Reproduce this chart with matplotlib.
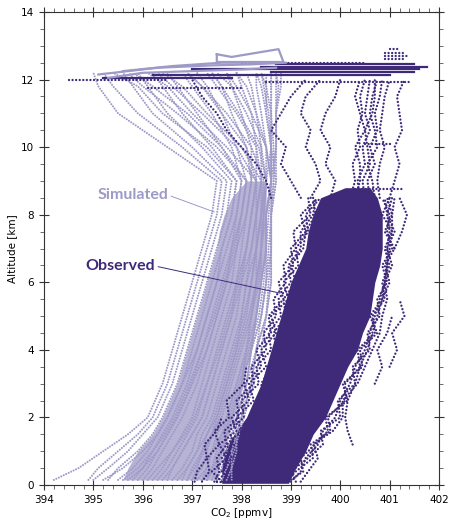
import matplotlib
matplotlib.use('Agg')
import matplotlib.pyplot as plt
import numpy as np
from matplotlib.ticker import MultipleLocator

sim_color = '#9e9ac8'
obs_color = '#3f2a7a'
nan = np.nan

# model profiles: CO2 [ppmv] at fixed altitudes [km]
sim_alt = [0.15, 0.5, 1.0, 1.5, 2.0, 3.0, 4.0, 5.0, 6.0, 7.0, 8.0, 9.0, 10.0, 11.0, 11.8, 12.2]
sim_profiles = [
    [394.2, 394.7, 395.2, 395.7, 396.1, 396.4, 396.6, 396.8, 397.0, 397.2, 397.4, 397.5, 396.5, 395.5, 395.1, 395.0],
    [394.9, 395.1, 395.5, 395.9, 396.2, 396.5, 396.7, 396.9, 397.1, 397.3, 397.5, 397.6, 396.8, 395.9, 395.4, 395.2],
    [395.0, 395.3, 395.7, 396.0, 396.3, 396.6, 396.8, 397.0, 397.2, 397.4, 397.6, 397.7, 397.0, 396.2, 395.8, 395.6],
    [395.3, 395.5, 395.9, 396.2, 396.4, 396.7, 396.9, 397.1, 397.3, 397.5, 397.7, 397.8, 397.2, 396.5, 396.1, 395.9],
    [395.5, 395.8, 396.1, 396.3, 396.5, 396.8, 397.0, 397.2, 397.4, 397.6, 397.8, 397.9, 397.4, 396.8, 396.4, 396.2],
    [395.7, 396.0, 396.2, 396.4, 396.6, 396.9, 397.1, 397.3, 397.5, 397.7, 397.9, 398.0, 397.6, 397.1, 396.7, 396.5],
    [395.9, 396.1, 396.3, 396.5, 396.7, 397.0, 397.2, 397.4, 397.6, 397.8, 397.9, 398.0, 397.8, 397.4, 397.0, 396.8],
    [396.0, 396.2, 396.4, 396.6, 396.8, 397.1, 397.3, 397.5, 397.7, 397.8, 398.0, 398.1, 397.9, 397.6, 397.3, 397.1],
    [396.2, 396.4, 396.6, 396.8, 397.0, 397.2, 397.4, 397.6, 397.8, 397.9, 398.1, 398.2, 398.1, 397.8, 397.6, 397.4],
    [396.3, 396.5, 396.7, 396.9, 397.1, 397.3, 397.5, 397.7, 397.9, 398.0, 398.1, 398.2, 398.2, 398.0, 397.8, 397.7],
    [396.5, 396.6, 396.8, 397.0, 397.2, 397.4, 397.6, 397.8, 397.9, 398.1, 398.2, 398.3, 398.3, 398.2, 398.0, 397.9],
    [396.6, 396.8, 397.0, 397.1, 397.3, 397.5, 397.7, 397.9, 398.0, 398.2, 398.3, 398.4, 398.4, 398.3, 398.2, 398.1],
    [396.8, 396.9, 397.1, 397.2, 397.4, 397.6, 397.8, 398.0, 398.1, 398.3, 398.4, 398.5, 398.5, 398.4, 398.3, 398.3],
    [396.9, 397.0, 397.2, 397.3, 397.5, 397.7, 397.9, 398.1, 398.2, 398.3, 398.4, 398.5, 398.6, 398.5, 398.5, 398.4],
    [397.0, 397.2, 397.3, 397.4, 397.6, 397.8, 398.0, 398.2, 398.3, 398.4, 398.5, 398.6, 398.6, 398.6, 398.6, 398.6],
    [397.1, 397.3, 397.4, 397.5, 397.7, 397.9, 398.1, 398.3, 398.4, 398.5, 398.5, 398.6, 398.7, 398.7, 398.7, 398.7],
    [397.2, 397.4, 397.5, 397.6, 397.8, 398.0, 398.2, 398.4, 398.5, 398.6, 398.6, 398.7, 398.7, 398.7, 398.8, 398.8],
    [397.4, 397.5, 397.6, 397.7, 397.9, 398.1, 398.3, 398.5, 398.6, 398.6, 398.6, 398.7, 398.6, 398.5, 398.4, 398.3],
    [397.5, 397.6, 397.7, 397.8, 398.0, 398.2, 398.3, 398.4, 398.5, 398.5, 398.5, 398.6, 398.5, 398.2, 397.9, 397.7],
    [397.6, 397.7, 397.8, 397.9, 398.0, 398.1, 398.2, 398.3, 398.4, 398.4, 398.4, 398.4, 398.3, 397.9, 397.5, 397.3],
    [397.7, 397.8, 397.8, 397.9, 397.9, 398.0, 398.1, 398.2, 398.3, 398.3, 398.3, 398.3, 398.1, 397.6, 397.2, 396.9],
    [397.8, 397.8, 397.9, 397.9, 398.0, 398.2, 398.3, 398.5, 398.6, 398.6, 398.6, 398.6, 398.6, 398.6, 398.6, 398.6],
    [397.0, 397.1, 397.2, 397.4, 397.5, 397.7, 397.9, 398.0, 398.1, 398.2, 398.3, 398.4, 398.0, 397.3, 396.8, 396.4],
    [396.4, 396.6, 396.8, 397.0, 397.2, 397.4, 397.6, 397.8, 398.0, 398.1, 398.2, 398.3, 397.7, 397.0, 396.5, 396.1],
    [395.8, 396.0, 396.3, 396.5, 396.7, 397.0, 397.3, 397.5, 397.7, 397.9, 398.0, 398.1, 397.5, 396.7, 396.0, 395.7],
    [395.2, 395.6, 396.0, 396.3, 396.5, 396.8, 397.1, 397.3, 397.5, 397.6, 397.8, 397.9, 397.3, 396.4, 395.9, 395.4],
    [397.3, 397.4, 397.6, 397.7, 397.8, 398.0, 398.2, 398.3, 398.4, 398.5, 398.5, 398.6, 398.5, 398.3, 398.1, 397.9],
    [397.5, 397.6, 397.7, 397.8, 397.9, 398.1, 398.2, 398.4, 398.5, 398.55, 398.6, 398.65, 398.65, 398.6, 398.5, 398.5],
    [397.2, 397.3, 397.4, 397.6, 397.7, 397.9, 398.1, 398.2, 398.35, 398.4, 398.45, 398.5, 398.4, 398.1, 397.8, 397.5],
    [396.7, 396.9, 397.1, 397.3, 397.45, 397.65, 397.85, 398.05, 398.2, 398.3, 398.4, 398.45, 398.2, 397.7, 397.2, 396.9],
    [396.1, 396.3, 396.6, 396.85, 397.05, 397.3, 397.55, 397.75, 397.95, 398.1, 398.2, 398.3, 397.9, 397.2, 396.6, 396.3],
    [395.6, 395.9, 396.2, 396.45, 396.65, 396.95, 397.2, 397.45, 397.65, 397.85, 398.0, 398.1, 397.6, 396.9, 396.2, 395.8],
    [397.6, 397.7, 397.85, 397.95, 398.05, 398.25, 398.4, 398.5, 398.55, 398.6, 398.6, 398.65, 398.7, 398.7, 398.75, 398.7],
    [397.3, 397.45, 397.55, 397.65, 397.75, 397.95, 398.15, 398.35, 398.45, 398.5, 398.55, 398.6, 398.6, 398.55, 398.45, 398.4],
    [396.9, 397.05, 397.25, 397.4, 397.55, 397.75, 397.95, 398.15, 398.3, 398.4, 398.45, 398.5, 398.35, 397.95, 397.6, 397.4],
]

# dense part of the model profiles
sim_core_alt = [0.15, 0.5, 1.0, 1.5, 2.0, 2.5, 3.0, 3.5, 4.0, 4.5, 5.0, 5.5, 6.0, 6.5, 7.0, 7.5, 8.0, 8.5, 9.0]
sim_core_left = [395.6, 395.7, 395.9, 396.2, 396.4, 396.55, 396.7, 396.8, 396.9, 397.0, 397.1, 397.2, 397.3, 397.4, 397.5, 397.55, 397.65, 397.8, 398.1]
sim_core_right = [397.5, 397.55, 397.65, 397.75, 397.85, 397.95, 398.05, 398.1, 398.2, 398.25, 398.3, 398.35, 398.4, 398.45, 398.5, 398.5, 398.5, 398.5, 398.5]

# model flight legs near the top
sim_top_x = [[395.1, 396.3, 397.4, 398.2, 398.9],
             [395.6, 396.6, 397.6, 398.5],
             [395.3, 396.0, 397.0, 398.0, 398.7],
             [397.5, 397.8, 398.75, 398.85, 397.5, 397.5]]
sim_top_y = [[12.15, 12.35, 12.42, 12.45, 12.5],
             [12.25, 12.4, 12.5, 12.5],
             [12.05, 12.2, 12.25, 12.3, 12.35],
             [12.75, 12.67, 12.9, 12.52, 12.52, 12.75]]

# dense part of the aircraft data: envelope of the bulk of the points
core_alt = [0.05, 0.5, 1.0, 1.5, 2.0, 2.5, 3.0, 3.5, 4.0, 4.5, 5.0, 5.5, 6.0, 6.5, 7.0, 7.5, 8.0, 8.5, 8.8]
core_left = [397.6, 397.6, 397.65, 397.85, 398.1, 398.25, 398.4, 398.5, 398.6, 398.7, 398.8, 398.9, 399.0,
             399.15, 399.3, 399.35, 399.45, 399.6, 400.1]
core_right = [398.95, 399.1, 399.3, 399.45, 399.7, 399.85, 400.0, 400.15, 400.35, 400.45, 400.6, 400.65, 400.7,
              400.8, 400.85, 400.85, 400.85, 400.75, 400.6]

# aircraft profiles below 8.5 km
obs_alt = [0.1, 0.4, 0.8, 1.2, 1.6, 2.0, 2.5, 3.0, 3.5, 4.0, 4.5, 5.0, 5.5, 6.0, 6.5, 7.0, 7.5, 8.0, 8.5]
obs_profiles = [
    [397.45, 397.55, 397.5, 397.7, 397.65, 397.95, 397.9, 398.25, 398.2, 398.5, 398.45, 398.7, 398.65, 398.9, 398.85, 399.1, 399.05, 399.4, 399.35],
    [397.6, 397.4, 397.7, 397.55, 397.9, 397.8, 398.15, 398.05, 398.4, 398.3, 398.6, 398.55, 398.85, 398.75, 399.05, 399.0, 399.3, 399.2, 399.55],
    [397.5, 397.7, 397.6, 397.85, 397.75, 398.05, 398.0, 398.35, 398.3, 398.6, 398.55, 398.8, 398.75, 399.0, 398.95, 399.2, 399.2, 399.45, 399.5],
    [397.8, 397.6, 397.8, 397.7, 398.0, 397.9, 398.25, 398.15, 398.5, 398.4, 398.7, 398.6, 398.95, 398.85, 399.15, 399.1, 399.35, 399.3, 399.6],
    [397.2, 397.35, 397.3, 397.55, 397.45, 397.75, 397.7, 398.05, 398.1, nan, nan, nan, nan, nan, nan, nan, nan, nan, nan],
    [397.05, 397.1, 397.3, 397.25, 397.5, 397.6, nan, nan, nan, nan, nan, nan, nan, nan, nan, nan, nan, nan, nan],
    [399.0, 399.2, 399.3, 399.55, 399.65, 399.9, 400.0, 400.2, 400.3, 400.5, 400.6, 400.7, 400.8, 400.9, 400.95, 400.95, 401.0, 400.95, 400.9],
    [398.9, 399.1, 399.45, 399.4, 399.8, 399.75, 400.1, 400.1, 400.4, 400.35, 400.7, 400.65, 400.9, 400.85, 401.0, 400.9, 401.05, 400.85, 401.0],
    [399.1, 399.0, 399.35, 399.65, 399.6, 400.0, 399.95, 400.3, 400.25, 400.6, 400.55, 400.8, 400.75, 400.95, 400.85, 401.05, 400.95, 401.0, 400.85],
    [398.95, 399.25, 399.2, 399.5, 399.75, 399.7, 400.15, 400.05, 400.45, 400.4, 400.75, 400.6, 400.85, 401.0, 400.9, 401.1, 400.9, 401.05, 400.95],
    [399.2, 399.35, 399.55, 399.45, 399.85, 400.05, 400.05, 400.35, 400.5, 400.65, 400.8, 400.85, 400.95, 400.9, 401.05, 400.95, 401.1, 400.95, 401.05],
    [nan, nan, nan, 400.25, 400.15, 400.1, 400.15, 400.3, 400.4, 400.55, 400.65, 400.75, 400.85, 400.9, 400.95, 401.0, 401.05, 401.05, 401.1],
    [nan, nan, nan, nan, nan, nan, nan, nan, 401.0, 401.15, 401.05, 401.3, 401.2, nan, nan, 401.1, 401.25, 401.35, 401.2],
    [nan, nan, nan, nan, nan, nan, nan, 400.7, 400.85, 400.75, 400.95, 401.05, nan, nan, nan, nan, nan, nan, nan],
    [397.9, 398.1, 398.0, 398.2, 398.3, 398.2, 398.45, 398.4, 398.6, 398.7, 398.65, 398.9, 398.85, 399.1, 399.0, 399.25, 399.3, 399.5, 399.45],
]

# aircraft profiles above 8.5 km
obs_up_alt = [8.5, 9.0, 9.5, 10.0, 10.5, 11.0, 11.5, 12.0]
obs_up_profiles = [
    [400.4, 400.35, 400.5, 400.45, 400.6, 400.5, 400.55, 400.6],
    [400.6, 400.55, 400.7, 400.6, 400.75, 400.7, 400.8, 400.85],
    [400.8, 400.75, 400.8, 400.9, 400.8, 400.85, 400.9, 401.0],
    [400.2, 400.3, 400.25, 400.4, 400.35, 400.45, 400.4, 400.5],
    [400.5, 400.45, 400.6, 400.55, 400.5, 400.65, 400.7, 400.7],
    [400.7, 400.65, 400.55, 400.75, 400.7, 400.6, 400.65, 400.75],
    [400.3, 400.4, 400.4, 400.3, 400.5, 400.4, 400.3, 400.4],
    [399.8, 399.9, 399.7, 399.8, 399.6, 399.7, 399.9, 400.0],
    [399.4, 399.6, 399.5, 399.3, 399.4, 399.2, 399.3, 399.6],
    [399.2, 399.0, 398.8, 398.9, 398.6, 398.8, 399.0, 399.3],
    [401.0, 401.1, 401.2, 401.1, 401.25, 401.2, 401.15, 401.3],
    [398.6, 398.5, 398.3, 398.0, 397.7, 397.5, 397.2, 397.0],
]

# level flight legs: altitude [km], start and end CO2 [ppmv]
leg_alt = [0.1, 0.25, 8.75, 10.1, 11.75, 11.93, 12.0, 12.5, 12.6, 12.7, 12.8, 12.9]
leg_x0 = [397.5, 398.2, 400.3, 400.5, 396.1, 398.5, 394.5, 398.0, 400.9, 400.9, 400.9, 401.0]
leg_x1 = [398.9, 398.9, 401.3, 401.0, 398.0, 401.4, 396.5, 400.5, 401.3, 401.4, 401.3, 401.2]

# the busiest legs near 12 km
band_alt = [12.15, 12.22, 12.3, 12.38, 12.45, 12.05]
band_x0 = [396.2, 398.6, 397.0, 398.4, 398.7, 395.2]
band_x1 = [401.0, 401.5, 401.6, 401.75, 401.5, 397.8]

fig = plt.figure(figsize=(4.51, 5.19), dpi=100)
ax = fig.add_axes([44/451, 34/519, 395/451, 473/519])

sim_dots = dict(color=sim_color, lw=1.5, ls=(0, (0.01, 1.3)), dash_capstyle='round')
obs_dots = dict(color=obs_color, lw=1.7, ls=(0, (0.01, 1.5)), dash_capstyle='round')

ax.fill_betweenx(sim_core_alt, sim_core_left, sim_core_right, color=sim_color, alpha=0.75, lw=0)
for p in sim_profiles:
    ax.plot(p, sim_alt, **sim_dots)

ax.fill_betweenx(core_alt, core_left, core_right, color=obs_color, lw=0)
for p in obs_profiles:
    ax.plot(p, obs_alt, **obs_dots)
for p in obs_up_profiles:
    ax.plot(p, obs_up_alt, **obs_dots)
for a, x0, x1 in zip(leg_alt, leg_x0, leg_x1):
    ax.plot([x0, x1], [a, a], **obs_dots)
for a, x0, x1 in zip(band_alt, band_x0, band_x1):
    ax.plot([x0, x1], [a, a], color=obs_color, lw=1.6)

for xs, ys in zip(sim_top_x, sim_top_y):
    ax.plot(xs, ys, color=sim_color, lw=1.6, zorder=3)

ax.set_xlim(394, 402)
ax.set_ylim(0, 14)
ax.xaxis.set_major_locator(MultipleLocator(1))
ax.xaxis.set_minor_locator(MultipleLocator(0.2))
ax.yaxis.set_major_locator(MultipleLocator(2))
ax.yaxis.set_minor_locator(MultipleLocator(0.5))
ax.tick_params(which='major', direction='inout', length=7, width=0.8, labelsize=7.5,
               top=True, right=True, color='#333333')
ax.tick_params(which='minor', direction='out', length=3, width=0.6,
               top=True, right=True, color='#555555')
for s in ax.spines.values():
    s.set_color('#333333')
    s.set_linewidth(0.8)

ax.set_xlabel('CO$_2$ [ppmv]', fontsize=7.5, labelpad=1)
ax.set_ylabel('Altitude [km]', fontsize=7.5, labelpad=3)

ax.annotate('Simulated', xy=(397.45, 8.08), xytext=(395.8, 8.58), color=sim_color,
            fontsize=11.5, fontweight='bold', family='Lato', ha='center', va='center',
            arrowprops=dict(arrowstyle='-', color=sim_color, lw=0.7, shrinkA=0, shrinkB=0,
                            relpos=(1, 0.5)))
ax.annotate('Observed', xy=(398.78, 5.68), xytext=(395.55, 6.48), color=obs_color,
            fontsize=11.5, fontweight='bold', family='Lato', ha='center', va='center',
            arrowprops=dict(arrowstyle='-', color=obs_color, lw=0.7, shrinkA=0, shrinkB=0,
                            relpos=(1, 0.5)))

fig.savefig('out.png', dpi=100)
